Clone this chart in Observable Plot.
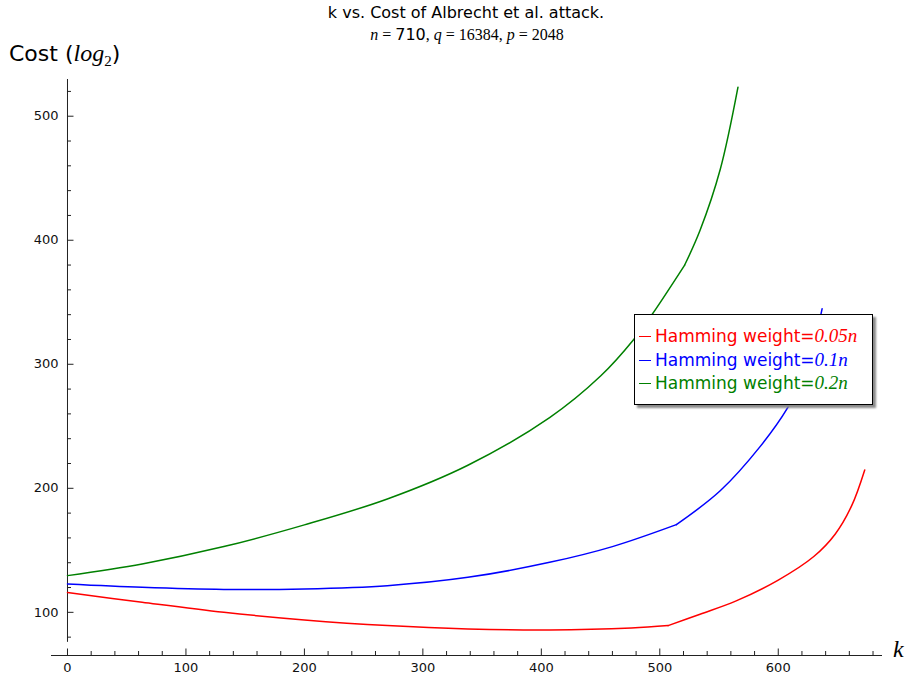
<!DOCTYPE html>
<html>
<head>
<meta charset="utf-8">
<script src="https://cdn.jsdelivr.net/npm/d3@7"></script>
<script src="https://cdn.jsdelivr.net/npm/@observablehq/plot@0.6"></script>
<style>
  html, body { margin: 0; padding: 0; background: #fff; }
  #wrap { position: relative; width: 907px; height: 677px; overflow: hidden; font-family: "DejaVu Sans", sans-serif; }
  #wrap svg { position: absolute; left: 0; top: 0; }
  .abs { position: absolute; white-space: nowrap; line-height: 1; }
  .serif { font-family: "Liberation Serif", "DejaVu Serif", serif; }
  .mi { font-family: "Liberation Serif", "DejaVu Serif", serif; font-style: italic; }
  #legend { position: absolute; left: 634px; top: 314px; width: 237px; height: 89px; border: 1.5px solid #000; background: #fff; box-shadow: 3px 3px 2px #8a8a8a; }
  .entry { position: absolute; left: 4px; font-size: 17px; line-height: 1; white-space: nowrap; }
  .entry .mi { font-size: 19px; }
  .dash { display: inline-block; width: 12px; height: 0; border-top: 1.5px solid currentColor; vertical-align: middle; margin-right: 4px; position: relative; top: -1px; }
</style>
</head>
<body>
<div id="wrap">
  <div class="abs" style="left:466px; top:5px; transform:translateX(-50%); font-size:16px;">k vs. Cost of Albrecht et al. attack.</div>
  <div class="abs serif" style="left:467px; top:27px; transform:translateX(-50%); font-size:16px;"><span class="mi">n</span> = <span style="font-family:'DejaVu Sans'; font-size:16px;">710</span>, <span class="mi">q</span> = 16384, <span class="mi">p</span> = 2048</div>
  <div class="abs" style="left:9px; top:41px; font-size:22px;">Cost (<span class="mi" style="font-size:24px;">log</span><sub style="font-family:'Liberation Serif',serif; font-size:15px;">2</sub>)</div>
  <div class="abs mi" style="left:893px; top:637px; font-size:24px;">k</div>
  <div id="legend">
    <div class="entry" style="top:11px; color:#ff0000;"><span class="dash"></span>Hamming weight=<span class="mi">0.05n</span></div>
    <div class="entry" style="top:35px; color:#0000ff;"><span class="dash"></span>Hamming weight=<span class="mi">0.1n</span></div>
    <div class="entry" style="top:58px; color:#008000;"><span class="dash"></span>Hamming weight=<span class="mi">0.2n</span></div>
  </div>
</div>
<script>
// ---- data ----
const kRed    = [0, 63, 132, 200, 270, 338, 407, 476, 507, 534, 564, 600, 630, 648, 662, 673];
const costRed = [116, 108.1, 100, 93.9, 89.3, 86.6, 85.8, 87.4, 89.3, 98.5, 109, 126, 145, 163, 186, 214.8];
const kinkRed = 507;

const kBlue    = [0, 63, 132, 200, 270, 338, 407, 460, 514, 551, 585, 608, 620, 630, 637];
const costBlue = [122.9, 120.2, 118.5, 118.9, 121.5, 128.2, 140.3, 153, 170.7, 198, 234, 265, 288, 316, 344.7];
const kinkBlue = 514;

const kGreen    = [0, 63, 132, 200, 270, 338, 407, 450, 478, 493, 521, 534, 551, 566];
const costGreen = [129.6, 139, 153, 170.5, 191.4, 218.6, 257, 290.5, 320, 339.5, 380, 408, 457, 523.4];
const kinkGreen = 521;

const seriesNames  = ["Hamming weight=0.05n", "Hamming weight=0.1n", "Hamming weight=0.2n"];
const seriesColors = ["#ff0000", "#0000ff", "#008000"];

const xMajor = [0, 100, 200, 300, 400, 500, 600];
const xMinor = d3.range(20, 690, 20).filter(v => v % 100 !== 0);
const yMajor = [100, 200, 300, 400, 500];
const yMinor = d3.range(80, 530, 20).filter(v => v % 100 !== 0);

const xAxisExtent = [-13.5, 688];
const yAxisExtent = [75.8, 529.6];
const xAxisAt = 65.2;

// ---- build table: each series split at its kink so the corner stays sharp ----
const rows = [];
[[kRed, costRed, kinkRed], [kBlue, costBlue, kinkBlue], [kGreen, costGreen, kinkGreen]].forEach(([ks, cs, kink], i) => {
  ks.forEach((k, j) => {
    if (k <= kink) rows.push({k, cost: cs[j], s: seriesNames[i], part: seriesNames[i] + "|a"});
    if (k >= kink) rows.push({k, cost: cs[j], s: seriesNames[i], part: seriesNames[i] + "|b"});
  });
});

const chart = Plot.plot({
  width: 907,
  height: 677,
  marginLeft: 51,
  marginRight: 25,
  marginTop: 79,
  marginBottom: 22,
  x: {domain: [xAxisExtent[0], xAxisExtent[1]], axis: null},
  y: {domain: [xAxisAt, yAxisExtent[1]], axis: null},
  color: {domain: seriesNames, range: seriesColors},
  marks: [
    Plot.ruleX([0], {y1: yAxisExtent[0], y2: yAxisExtent[1], stroke: "#222", strokeWidth: 1}),
    Plot.ruleY([xAxisAt], {x1: xAxisExtent[0], x2: xAxisExtent[1], stroke: "#222", strokeWidth: 1}),
    Plot.ruleY(yMajor, {y: d => d, x1: 0, x2: 0, insetRight: -6.5, stroke: "#222"}),
    Plot.ruleY(yMinor, {y: d => d, x1: 0, x2: 0, insetRight: -4, stroke: "#222"}),
    Plot.ruleX(xMajor, {x: d => d, y1: xAxisAt, y2: xAxisAt, insetTop: -6.5, stroke: "#222"}),
    Plot.ruleX(xMinor, {x: d => d, y1: xAxisAt, y2: xAxisAt, insetTop: -4, stroke: "#222"}),
    Plot.text(yMajor, {x: 0, y: d => d, text: d => String(d), dx: -9, textAnchor: "end", fontSize: 13, fill: "#111"}),
    Plot.text(xMajor, {x: d => d, y: xAxisAt, text: d => String(d), dy: 12, fontSize: 13, fill: "#111"}),
    Plot.line(rows, {x: "k", y: "cost", z: "part", stroke: "s", strokeWidth: 1.5, curve: "catmull-rom"})
  ]
});
chart.style.fontFamily = "'DejaVu Sans', sans-serif";
document.getElementById("wrap").prepend(chart);
</script>
</body>
</html>
